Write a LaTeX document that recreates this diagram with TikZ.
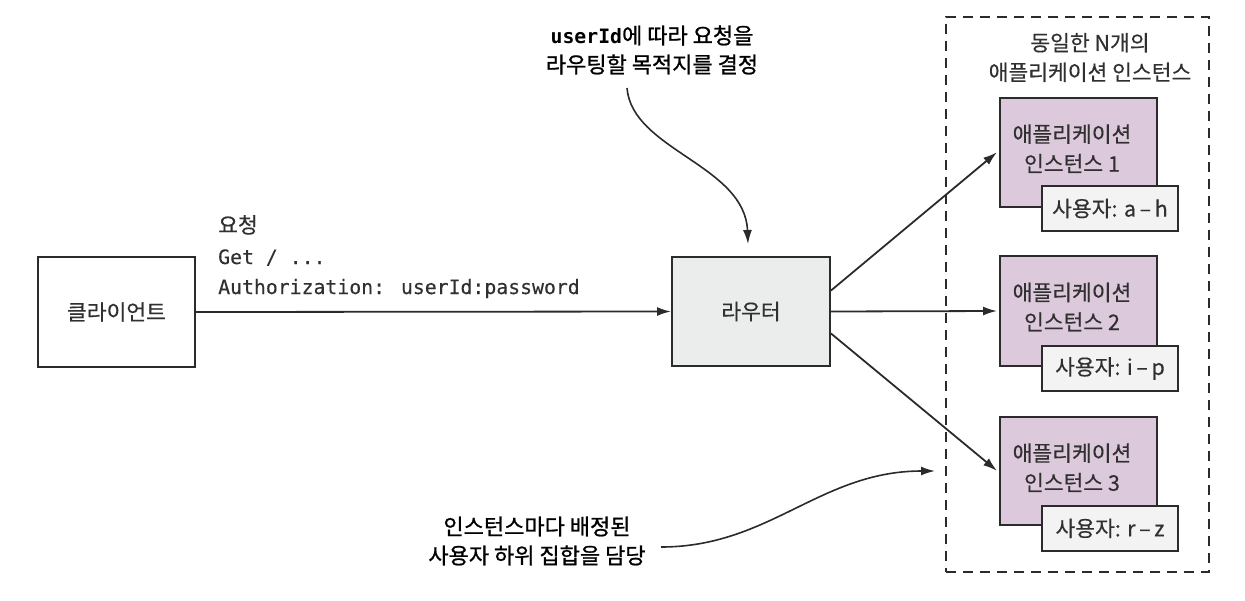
\documentclass[tikz,border=0pt]{standalone}
\usepackage{fontspec}
\setmainfont{Noto Sans CJK KR}
\newfontfamily\kr[FakeBold=0.4]{Noto Sans CJK KR}
\newfontfamily\krb[FakeBold=1.0]{Noto Sans CJK KR}
\newfontfamily\mono[FakeBold=0.3]{DejaVu Sans Mono}
\newfontfamily\monob{DejaVu Sans Mono Bold}
\usetikzlibrary{arrows.meta}
\definecolor{edge}{HTML}{2B2B2B}
\definecolor{ink}{HTML}{303030}
\definecolor{routerfill}{HTML}{EBEDEC}
\definecolor{instfill}{HTML}{DCCADC}
\definecolor{labelfill}{HTML}{F3F3F3}
\begin{document}
\begin{tikzpicture}[x=1pt,y=-1pt,
  box/.style={draw=edge, line width=2pt, inner sep=0pt},
  krtxt/.style={inner sep=0pt, font=\kr\fontsize{21.5}{29.5}\selectfont, text=ink, align=center},
  calltxt/.style={inner sep=0pt, font=\krb\fontsize{22}{29}\selectfont, text=black, align=center},
  monotxt/.style={inner sep=0pt, font=\mono\fontsize{19.8}{30}\selectfont, text=ink, anchor=base west},
  conn/.style={draw=edge, line width=1.8pt, -{Latex[length=14pt,width=9pt]}},
  callout/.style={draw=edge, line width=1.6pt, -{Latex[length=14pt,width=9pt]}}
]
\useasboundingbox (0,0) rectangle (1245,600);

% dashed group
\node[draw=edge, line width=2pt, dash pattern=on 10pt off 7pt, minimum width=263pt, minimum height=555pt, inner sep=0pt] (group) at (1077.4,294.2) {};
\node[krtxt] (gtitle) at (1090,57.5) {동일한 N개의\\애플리케이션 인스턴스};

% client and router
\node[box, fill=white, minimum width=157pt, minimum height=110pt] (client) at (116.5,312) {};
\node[krtxt] (clienttxt) at (116.5,312) {클라이언트};
\node[box, fill=routerfill, minimum width=158pt, minimum height=109pt] (router) at (751,311.5) {};
\node[krtxt] (routertxt) at (751,311.5) {라우터};

% instances
\node[box, fill=instfill, minimum width=157pt, minimum height=109pt] (inst1) at (1078.5,152.2) {};
\node[krtxt] (inst1txt) at (1072,148.7) {애플리케이션\\인스턴스 1};
\node[box, fill=labelfill, minimum width=136pt, minimum height=45pt] (lab1) at (1110,208.5) {};
\node[krtxt] (lab1txt) at (1110,208.5) {사용자: a\,–\,h};

\node[box, fill=instfill, minimum width=157pt, minimum height=110pt] (inst2) at (1078.5,311) {};
\node[krtxt] (inst2txt) at (1072,307) {애플리케이션\\인스턴스 2};
\node[box, fill=labelfill, minimum width=136pt, minimum height=45pt] (lab2) at (1110,368.5) {};
\node[krtxt] (lab2txt) at (1110,368.5) {사용자: i\,–\,p};

\node[box, fill=instfill, minimum width=157pt, minimum height=108pt] (inst3) at (1078.5,470.8) {};
\node[krtxt] (inst3txt) at (1072,467.7) {애플리케이션\\인스턴스 3};
\node[box, fill=labelfill, minimum width=136pt, minimum height=45pt] (lab3) at (1110,528.3) {};
\node[krtxt] (lab3txt) at (1110,528.3) {사용자: r\,–\,z};

% request text
\node[monotxt] (req1) at (218,233) {\kr\fontsize{21.5}{30}\selectfont 요청};
\node[monotxt] (req2) at (218,264) {Get / ...};
\node[monotxt] (req3) at (218,294) {Authorization: userId:password};

% connectors
\draw[conn] (client.east) -- (router.west);
\draw[conn] ([yshift=21pt]router.east) -- ([xshift=-2pt]inst1.west);
\draw[conn] (router.east) -- ([xshift=-2pt]inst2.west);
\draw[conn] ([yshift=-22pt]router.east) -- ([xshift=-2pt]inst3.west);

% callouts
\node[calltxt] (topnote) at (652,50) {{\monob\fontsize{19.8}{29}\selectfont userId}에 따라 요청을\\라우팅할 목적지를 결정};
\coordinate (topstart) at (627,88);
\draw[callout] (topstart) .. controls (632,150) and (745,165) .. ([xshift=-3pt,yshift=12pt]router.north);

\node[calltxt] (botnote) at (537,541) {인스턴스마다 배정된\\사용자 하위 집합을 담당};
\coordinate (botstart) at (661,547);
\coordinate (botend) at (935,471);
\draw[callout] (botstart) .. controls (770,547) and (820,471) .. (botend);
\end{tikzpicture}
\end{document}
